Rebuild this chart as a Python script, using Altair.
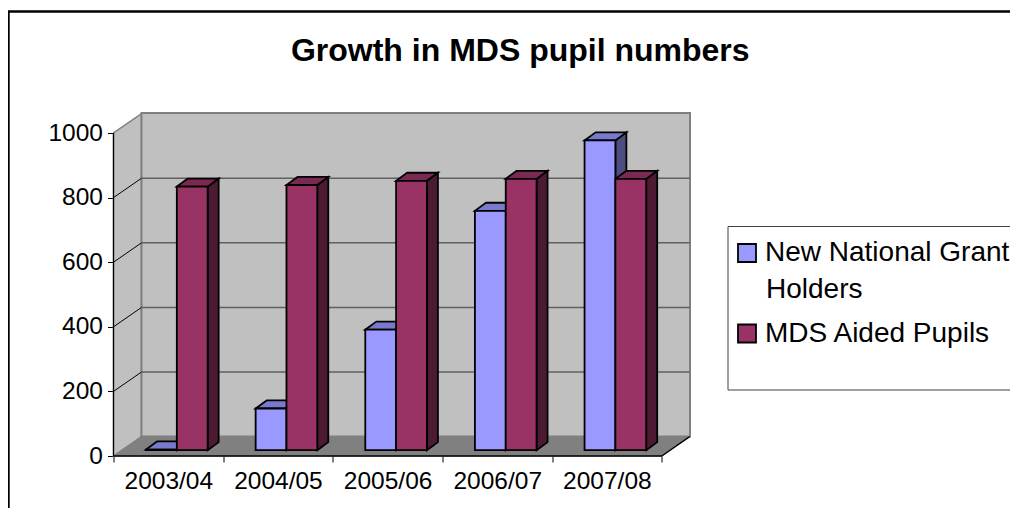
import json
import altair as alt
import pandas as pd

categories = ["2003/04", "2004/05", "2005/06", "2006/07", "2007/08"]
new_grant = [2, 129, 373, 741, 959]
mds_aided = [816, 821, 834, 840, 840]
series_names = ["New National Grant Holders", "MDS Aided Pupils"]
y_ticks = [0, 200, 400, 600, 800, 1000]

BLUE, BLUE_TOP, BLUE_SIDE = "#9999FF", "#7A7ACC", "#4D4D80"
RED, RED_TOP, RED_SIDE = "#993366", "#7A2952", "#4D1A33"
FONT = "Liberation Sans"

PX_X = 109.64   # px per category
PX_Y = 0.323    # px per unit
W, H = 576.5, 343
X_MAX, Y_MAX = W / PX_X, H / PX_Y
WALL_DX, WALL_DY = 28 / PX_X, 60
BAR_X, BAR_Y = 8.5 / PX_X, 18
GAP = 24 / PX_X
BAR_W = (1 - 2 * GAP) / 2
DEP_X, DEP_Y = 11 / PX_X, 25

x_scale = alt.Scale(domain=[0, X_MAX], nice=False, zero=False)
y_scale = alt.Scale(domain=[0, Y_MAX], nice=False, zero=False)
X = lambda f, **k: alt.X(f, type="quantitative", scale=x_scale, title=None, **k)
Y = lambda f, **k: alt.Y(f, type="quantitative", scale=y_scale, title=None, stack=None, **k)


# ---------- walls and floor ----------
left_wall = pd.DataFrame({"x": [0, WALL_DX], "y": [0, WALL_DY], "y2": [1000, 1000 + WALL_DY]})
floor = pd.DataFrame({"y": [0, WALL_DY], "x": [0, WALL_DX], "x2": [5, 5 + WALL_DX]})
back = pd.DataFrame({"x": [WALL_DX], "x2": [X_MAX], "y": [WALL_DY], "y2": [Y_MAX]})

wall_left = alt.Chart(left_wall).mark_area(fill="#C0C0C0", stroke="#808080", strokeWidth=1.5, clip=False).encode(
    x=X("x", axis=alt.Axis(
        values=[v / 2 for v in range(0, 11)],
        grid=False, domain=False, tickColor="#000000", tickSize=6,
        tickOpacity={"condition": {"test": "datum.value % 1 != 0", "value": 0}, "value": 1},
        labelExpr="datum.value % 1 != 0 ? " + json.dumps(categories) + "[floor(datum.value)] : ''",
        labelFont=FONT, labelFontSize=24.5, labelColor="#000000", labelPadding=7,
        labelOverlap=False, labelFlush=False, labelBound=False)),
    y=Y("y", axis=alt.Axis(
        values=y_ticks, grid=False, domain=False, tickColor="#000000", tickSize=6, format="d",
        labelFont=FONT, labelFontSize=24.5, labelColor="#000000", labelPadding=5,
        labelOverlap=False)),
    y2="y2:Q",
)
wall_back = alt.Chart(back).mark_rect(fill="#C0C0C0", stroke="#808080", strokeWidth=2).encode(
    x=X("x"), x2="x2:Q", y=Y("y"), y2="y2:Q")
wall_floor = alt.Chart(floor).mark_area(orient="horizontal", fill="#808080", stroke="#808080", strokeWidth=1).encode(
    y=Y("y"), x=X("x"), x2="x2:Q")

# ---------- gridlines and axis lines ----------
grid_rows_side, grid_rows_back = [], []
for v in y_ticks[1:-1]:
    grid_rows_side += [{"v": v, "x": 0, "y": v}, {"v": v, "x": WALL_DX, "y": v + WALL_DY}]
    grid_rows_back += [{"v": v, "x": WALL_DX, "y": v + WALL_DY}, {"v": v, "x": X_MAX, "y": v + WALL_DY}]
grid_side = alt.Chart(pd.DataFrame(grid_rows_side)).mark_line(color="#000000", strokeWidth=1).encode(
    x=X("x"), y=Y("y"), detail="v:N")
grid_back = alt.Chart(pd.DataFrame(grid_rows_back)).mark_line(color="#606060", strokeWidth=1.5).encode(
    x=X("x"), y=Y("y"), detail="v:N")
y_line = alt.Chart(pd.DataFrame({"x": [0], "y": [0], "y2": [1000]})).mark_rule(color="#000000", strokeWidth=1.2).encode(
    x=X("x"), y=Y("y"), y2="y2:Q")
floor_edge = alt.Chart(pd.DataFrame({"x": [0, 5, 5 + WALL_DX], "y": [0, 0, WALL_DY]})).mark_line(
    color="#000000", strokeWidth=1.3).encode(x=X("x"), y=Y("y"))


# ---------- bars ----------
def faces(values, slot):
    side, top, front = [], [], []
    for i, v in enumerate(values):
        x0 = i + BAR_X + GAP + slot * BAR_W
        x1 = x0 + BAR_W
        y0 = BAR_Y
        y1 = BAR_Y + v
        side += [{"c": i, "x": x1, "y": y0, "y2": y1},
                 {"c": i, "x": x1 + DEP_X, "y": y0 + DEP_Y, "y2": y1 + DEP_Y}]
        top += [{"c": i, "y": y1, "x": x0, "x2": x1},
                {"c": i, "y": y1 + DEP_Y, "x": x0 + DEP_X, "x2": x1 + DEP_X}]
        front.append({"x": x0, "x2": x1, "y": y0, "y2": y1, "s": series_names[slot]})
    return pd.DataFrame(side), pd.DataFrame(top), pd.DataFrame(front)


def side_layer(df, colour):
    return alt.Chart(df).mark_area(fill=colour, stroke="#000000", strokeWidth=1.8).encode(
        x=X("x"), y=Y("y"), y2="y2:Q", detail="c:N")


def top_layer(df, colour):
    return alt.Chart(df).mark_area(orient="horizontal", fill=colour, stroke="#000000", strokeWidth=1.8).encode(
        y=Y("y"), x=X("x"), x2="x2:Q", detail="c:N")


b_side, b_top, b_front = faces(new_grant, 0)
r_side, r_top, r_front = faces(mds_aided, 1)

front = alt.Chart(pd.concat([b_front, r_front])).mark_rect(stroke="#000000", strokeWidth=1.8).encode(
    x=X("x"), x2="x2:Q", y=Y("y"), y2="y2:Q",
    color=alt.Color("s:N", scale=alt.Scale(domain=series_names, range=[BLUE, RED]), legend=alt.Legend(
        title=None, orient="none", legendX=733 - 113.5, legendY=239 - 113,
        symbolType="square", symbolSize=324, symbolStrokeColor="#000000", symbolStrokeWidth=1.8,
        labelFont=FONT, labelFontSize=28, labelColor="#000000", labelLimit=400, labelOffset=4,
        rowPadding=52.5, padding=0,
        labelExpr="datum.label == '" + series_names[0] + "' ? 'New National Grant' : datum.label",
    )),
)

# ---------- frames and legend continuation ----------
frame = alt.Chart(pd.DataFrame({"a": [0]})).mark_rect(fill="transparent", stroke="#000000", strokeWidth=2.4).encode(
    x=alt.value(8.5 - 113.5), x2=alt.value(1040 - 113.5), y=alt.value(11.5 - 113), y2=alt.value(540 - 113))
legend_box = alt.Chart(pd.DataFrame({"a": [0]})).mark_rect(fill="#FFFFFF", stroke="#404040", strokeWidth=1).encode(
    x=alt.value(728 - 113.5), x2=alt.value(1040 - 113.5), y=alt.value(226.5 - 113), y2=alt.value(390 - 113))
legend_more = alt.Chart(pd.DataFrame({"t": ["Holders"]})).mark_text(
    font=FONT, fontSize=28, color="#000000", align="left", baseline="middle").encode(
    x=alt.value(766 - 113.5), y=alt.value(290 - 113), text="t:N")

chart = alt.layer(
    frame, legend_box, legend_more,
    wall_left, wall_back, wall_floor, grid_side, grid_back, y_line, floor_edge,
    side_layer(b_side, BLUE_SIDE), top_layer(b_top, BLUE_TOP),
    side_layer(r_side, RED_SIDE), top_layer(r_top, RED_TOP),
    front,
).properties(
    width=W, height=H,
    title=alt.TitleParams("Growth in MDS pupil numbers", font=FONT, fontSize=32, fontWeight="bold",
                          color="#000000", anchor="middle", dx=118.5, offset=-58),
    padding={"left": 105.5, "top": 105, "right": 320, "bottom": 52},
    autosize=alt.AutoSizeParams(type="none"),
).configure_view(stroke=None)

chart.save("out.html", embed_options={"renderer": "svg", "actions": False})
